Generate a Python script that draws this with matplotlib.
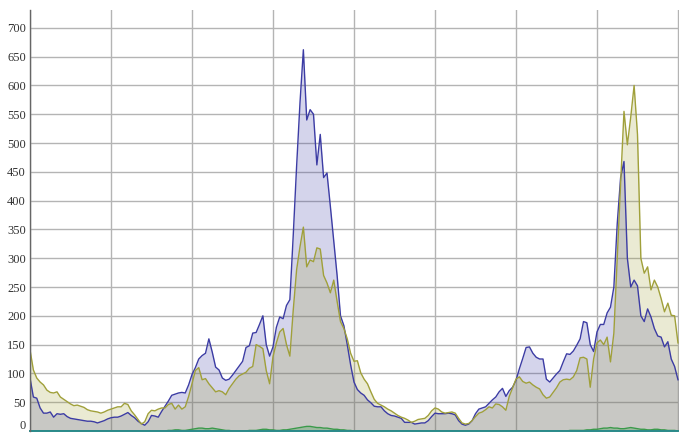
import matplotlib
matplotlib.use("Agg")
import matplotlib.pyplot as plt
import matplotlib.transforms as mtransforms
import numpy as np

# weekly counts, 193 samples, one x grid line every 24 samples
blue = [92, 59, 57, 40, 31, 31, 33, 24, 30, 29, 30, 25, 22, 21, 20, 19, 18, 17, 17, 16,
        14, 16, 18, 21, 23, 24, 24, 26, 29, 32, 27, 23, 17, 13, 10, 16, 27, 26, 24, 34,
        43, 52, 62, 64, 66, 67, 66, 80, 98, 110, 125, 131, 135, 160, 137, 111, 106, 92, 88, 90,
        97, 105, 113, 121, 145, 148, 170, 171, 185, 200, 150, 130, 146, 180, 198, 195, 218, 228, 340, 460,
        570, 662, 540, 558, 550, 462, 515, 440, 448, 390, 330, 270, 200, 183, 150, 115, 85, 72, 66, 62,
        54, 49, 43, 42, 42, 35, 30, 27, 26, 24, 22, 15, 15, 15, 12, 13, 14, 14, 18, 25,
        31, 30, 30, 30, 31, 30, 28, 18, 12, 10, 12, 18, 30, 38, 40, 42, 48, 54, 59, 68,
        74, 60, 70, 76, 88, 108, 126, 145, 146, 135, 128, 125, 125, 90, 85, 92, 99, 105, 120, 134,
        133, 139, 149, 160, 190, 188, 150, 138, 172, 185, 185, 205, 215, 250, 360, 440, 468, 300, 250, 262,
        252, 200, 190, 212, 198, 178, 165, 163, 146, 155, 125, 112, 89]

olive = [141, 106, 92, 85, 80, 71, 67, 66, 68, 59, 55, 51, 47, 44, 45, 43, 41, 37, 35, 34,
         33, 31, 33, 36, 38, 40, 42, 42, 48, 46, 35, 28, 20, 12, 16, 30, 36, 35, 38, 40,
         40, 46, 48, 38, 45, 38, 42, 60, 82, 105, 110, 89, 91, 82, 75, 68, 70, 68, 63, 74,
         82, 90, 96, 99, 102, 109, 112, 150, 147, 143, 105, 82, 129, 153, 172, 178, 150, 130, 210, 280,
         320, 354, 285, 297, 294, 318, 316, 270, 257, 240, 262, 225, 190, 178, 160, 135, 121, 122, 101, 90,
         82, 68, 55, 48, 45, 42, 38, 35, 31, 27, 24, 22, 19, 15, 17, 20, 21, 22, 27, 35,
         40, 38, 33, 31, 32, 33, 31, 22, 14, 12, 13, 18, 25, 31, 33, 37, 42, 40, 47, 46,
         42, 36, 60, 75, 90, 94, 86, 83, 85, 80, 76, 73, 63, 57, 59, 67, 75, 85, 89, 90,
         89, 94, 105, 127, 128, 125, 76, 125, 153, 158, 150, 163, 120, 170, 300, 430, 555, 497, 545, 600,
         515, 300, 274, 285, 245, 262, 250, 230, 207, 222, 201, 200, 153]

green = [0, 0, 0, 0, 0, 0, 0, 0, 0, 0, 0, 0, 0, 0, 0, 0, 0, 0, 0, 0,
         0, 0, 0, 0, 0, 0, 0, 0, 0, 0, 0, 0, 0, 0, 0, 0, 0, 0, 0, 0,
         0, 1, 1, 2, 2, 1, 1, 2, 3, 4, 5, 5, 4, 4, 5, 4, 3, 2, 1, 1,
         0, 0, 0, 0, 0, 1, 1, 1, 2, 3, 3, 2, 2, 1, 1, 2, 2, 3, 4, 5,
         6, 7, 8, 8, 7, 6, 6, 5, 5, 4, 3, 3, 2, 2, 1, 1, 0, 0, 0, 0,
         0, 0, 0, 0, 0, 0, 0, 0, 0, 0, 0, 0, 0, 0, 0, 0, 0, 0, 0, 0,
         0, 0, 0, 0, 0, 0, 0, 0, 0, 0, 0, 0, 0, 0, 0, 0, 0, 0, 0, 0,
         0, 0, 0, 0, 0, 0, 0, 0, 0, 0, 0, 0, 0, 0, 0, 0, 0, 0, 0, 0,
         1, 1, 1, 1, 1, 2, 2, 3, 3, 4, 5, 5, 6, 5, 5, 4, 4, 5, 6, 5,
         4, 3, 3, 2, 2, 3, 3, 2, 2, 1, 1, 1, 0]

n = len(blue)
x = np.arange(n)
teal = np.zeros(n)

BLUE = "#3c3ca4"
OLIVE = "#a0a03a"

fig = plt.figure(figsize=(6.79, 4.33), dpi=100)
ax = fig.add_axes([30 / 679, 2 / 433, 649 / 679, 421 / 433])

ax.fill_between(x, blue, color=BLUE, alpha=0.22, linewidth=0)
ax.fill_between(x, olive, color=OLIVE, alpha=0.22, linewidth=0)
ax.fill_between(x, green, color="#3a9a4a", alpha=0.3, linewidth=0)
ax.plot(x, blue, color=BLUE, lw=1.0)
ax.plot(x, olive, color=OLIVE, lw=1.0)
ax.plot(x, green, color="#3a9a4a", lw=1.0)
ax.plot(x, teal, color="#2a8a8a", lw=1.4, clip_on=False)

ax.set_xlim(0, 192.3)
ax.set_ylim(0, 731)
ax.set_xticks(np.arange(0, 193, 24))
ax.set_yticks(np.arange(0, 701, 50))
ax.xaxis.set_ticklabels([])
ax.grid(True, color="#b4b4b4", lw=1.0)
ax.set_axisbelow(True)
ax.tick_params(length=0, pad=3)
for lab in ax.get_yticklabels():
    lab.set_family("Liberation Serif")
    lab.set_fontsize(9)
    lab.set_color("#333333")
# lowest label sits a bit higher, like the original
lbl0 = ax.get_yticklabels()[0]
lbl0.set_transform(lbl0.get_transform() + mtransforms.ScaledTranslation(0, 5 / 72, fig.dpi_scale_trans))

for s in ["top", "right", "bottom"]:
    ax.spines[s].set_visible(False)
ax.spines["left"].set_color("#666666")
ax.spines["left"].set_linewidth(1.0)

fig.savefig("out.png", dpi=100)
